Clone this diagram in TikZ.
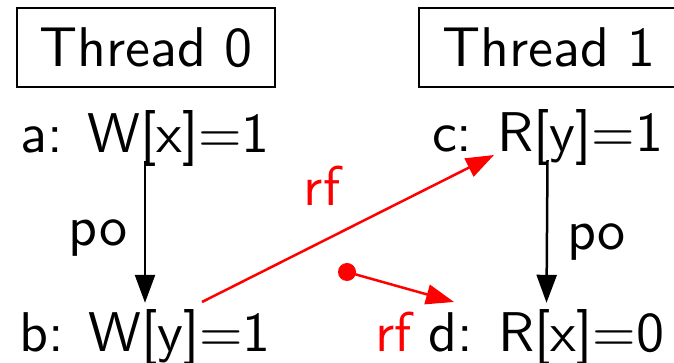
\documentclass[tikz,border=0pt]{standalone}
\usepackage{graphicx}
\usetikzlibrary{arrows.meta}
\newcommand{\bigtxt}[1]{\scalebox{5.6}{\fontsize{10}{12}\selectfont\sffamily #1}}
\begin{document}
\begin{tikzpicture}[x=1pt,y=1pt,
  threadbox/.style={draw, line width=2pt, minimum height=79pt, inner sep=0pt},
  event/.style={anchor=base, inner sep=0pt},
  lbl/.style={anchor=base, inner sep=0pt},
  rflbl/.style={anchor=base, inner sep=0pt, text=red},
  poarrow/.style={line width=2.5pt, -{Triangle[length=28pt,width=20pt]}},
  rfarrow/.style={line width=2.5pt, red, -{Triangle[length=28pt,width=20pt]}}]
\useasboundingbox (0,0) rectangle (674,363);
\node[threadbox, minimum width=258pt] (t0) at (146,315.5) {\bigtxt{Thread 0}};
\node[threadbox, minimum width=260pt] (t1) at (549,315.5) {\bigtxt{Thread 1}\hspace{5pt}};
\node[event] (a) at (145,210) {\bigtxt{a:\hspace{4.4pt}W[x]=1}};
\node[event] (b) at (145,11) {\bigtxt{b:\hspace{4.4pt}W[y]=1}};
\node[event] (c) at (547.5,211) {\bigtxt{c:\hspace{4.4pt}R[y]=1}};
\node[event] (d) at (546.5,11) {\bigtxt{d:\hspace{4.4pt}R[x]=0}};
\draw[poarrow] ([yshift=6pt]a.south) -- ([yshift=7pt]b.north);
\draw[poarrow] ([yshift=6pt]c.south) -- ([yshift=7pt]d.north);
\node[lbl] (po0) at (98,117) {\bigtxt{po}};
\node[lbl] (po1) at (596.5,113) {\bigtxt{po}};
\draw[rfarrow] ([shift={(57,36)}]b.center) -- ([shift={(-53.5,-17)}]c.center);
\node[rflbl] (rf0) at (322,157) {\bigtxt{rf}};
\coordinate (init) at (347,91);
\fill[red] (init) circle (9pt);
\draw[rfarrow] (init) -- ([shift={(-92.5,36)}]d.center);
\node[rflbl] (rf1) at (393.5,11) {\bigtxt{rf}};
\end{tikzpicture}
\end{document}
